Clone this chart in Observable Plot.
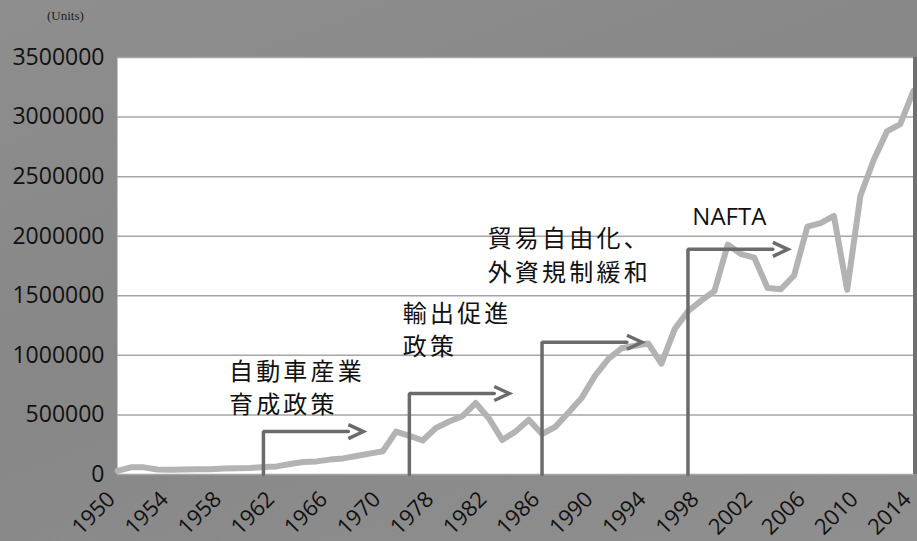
<!DOCTYPE html>
<html><head><meta charset="utf-8">
<script src="https://cdn.jsdelivr.net/npm/d3@7"></script>
<script src="https://cdn.jsdelivr.net/npm/@observablehq/plot@0.6"></script>
<style>
html,body{margin:0;padding:0;background:#8a8a8a;}
#wrap{position:relative;width:917px;height:541px;overflow:hidden;background:linear-gradient(160deg,#8e8e8e 0%,#878787 45%,#8f8f8f 100%);}
#units{position:absolute;left:47px;top:8px;font-family:"Liberation Serif","DejaVu Serif",serif;font-size:13px;color:#222;}
#chart{position:absolute;left:0;top:0;}
#edge{position:absolute;left:913px;top:57px;width:4px;height:417px;background:#6f6f6f;}
</style></head><body>
<div id="wrap"><div id="chart"></div><div id="edge"></div><div id="units">(Units)</div></div>
<script>
// categories (years shown on the category axis; 1971-1974 absent)
const years = ["1950","1951","1952","1953","1954","1955","1956","1957","1958","1959",
  "1960","1961","1962","1963","1964","1965","1966","1967","1968","1969","1970",
  "1975","1976","1977","1978","1979","1980","1981","1982","1983","1984","1985",
  "1986","1987","1988","1989","1990","1991","1992","1993","1994","1995","1996",
  "1997","1998","1999","2000","2001","2002","2003","2004","2005","2006","2007",
  "2008","2009","2010","2011","2012","2013","2014"];
// production (units)
const production = [31000,60000,60000,42000,40000,42000,45000,45000,50000,52000,
  55000,62000,68000,88000,105000,110000,125000,135000,155000,175000,195000,
  360000,325000,285000,390000,445000,490000,600000,470000,290000,360000,460000,
  340000,400000,520000,645000,830000,970000,1060000,1080000,1100000,930000,1220000,
  1370000,1460000,1540000,1930000,1850000,1820000,1565000,1555000,1670000,2080000,2110000,
  2170000,1550000,2340000,2640000,2880000,2940000,3220000];
// tick labels
const xTickLabels = ["1950","1954","1958","1962","1966","1970","1978","1982","1986","1990","1994","1998","2002","2006","2010","2014"];
const yTicks = [0,500000,1000000,1500000,2000000,2500000,3000000,3500000];
// policy annotations
const noteStartYears = ["1961","1976","1986","1997"];
const noteLevels = [360000,680000,1110000,1890000];
const noteSpan = 6.4; // arrow shaft length in categories
const noteLabels = ["自動車産業\n育成政策","輸出促進\n政策","貿易自由化、\n外資規制緩和","NAFTA"];
const noteLabelAt = [8.4,21.5,27.9,43.33]; // category position of label start
const noteLabelLevel = [742000,1230000,1856000,2155000];

const series = years.map((y,i)=>({i, year:y, v: production[i]}));
const tickIdx = xTickLabels.map(t=>years.indexOf(t));
const notes = noteStartYears.map((y,k)=>({k, i: years.indexOf(y), level: noteLevels[k]}));
const elbows = notes.flatMap(n=>[
  {k:n.k, x:n.i, y:0},
  {k:n.k, x:n.i, y:n.level},
  {k:n.k, x:n.i+noteSpan, y:n.level}
]);
const labels = noteLabels.map((t,k)=>({t, x:noteLabelAt[k], y:noteLabelLevel[k], jp: k<3}));

const chevron = {draw(ctx){ ctx.moveTo(0,-7); ctx.lineTo(15,0); ctx.lineTo(0,7); }};

const chart = Plot.plot({
  width: 917, height: 541,
  marginLeft: 117, marginRight: 4, marginTop: 57, marginBottom: 67,
  style: {background:"transparent", fontFamily:"'Open Sans','Noto Sans CJK JP',sans-serif", color:"#111"},
  x: {type:"linear", domain:[0, years.length-1]},
  y: {domain:[0,3500000]},
  marks: [
    Plot.frame({fill:"white", stroke:"none"}),
    Plot.gridY(yTicks, {stroke:"#a6a6a6", strokeOpacity:1, strokeWidth:1.5}),
    Plot.axisY(yTicks, {tickSize:0, tickPadding:13, fontSize:23, tickFormat:d=>String(d), label:null, fill:"#111"}),
    Plot.axisX(tickIdx, {tickSize:0, tickPadding:21, tickRotate:-45, fontSize:22, dx:-6, tickFormat:i=>years[i], label:null, fill:"#111"}),
    Plot.line(series, {x:"i", y:"v", stroke:"#b3b3b3", strokeWidth:6, strokeLinejoin:"round"}),
    Plot.line(elbows, {x:"x", y:"y", z:"k", stroke:"#6b6b6b", strokeWidth:3.5, strokeLinejoin:"miter", curve:"linear"}),
    Plot.dot(notes, {x:d=>d.i+noteSpan, y:"level", symbol:chevron, fill:"none", stroke:"#6b6b6b", strokeWidth:3.5, r:5}),
    Plot.text(labels.filter(d=>d.jp), {x:"x", y:"y", text:"t", textAnchor:"start", lineAnchor:"middle", lineHeight:1.38, fontSize:24, fill:"#111", fontFamily:"'Noto Sans CJK JP',sans-serif"}),
    Plot.text(labels.filter(d=>!d.jp), {x:"x", y:"y", text:"t", textAnchor:"start", lineAnchor:"middle", fontSize:24, fill:"#111"})
  ]
});
document.getElementById("chart").appendChild(chart);
d3.select(chart).selectAll("text").filter(function(){return /[\u3000-\u9fff]/.test(this.textContent);}).style("letter-spacing","3.2px");
</script>
</body></html>
